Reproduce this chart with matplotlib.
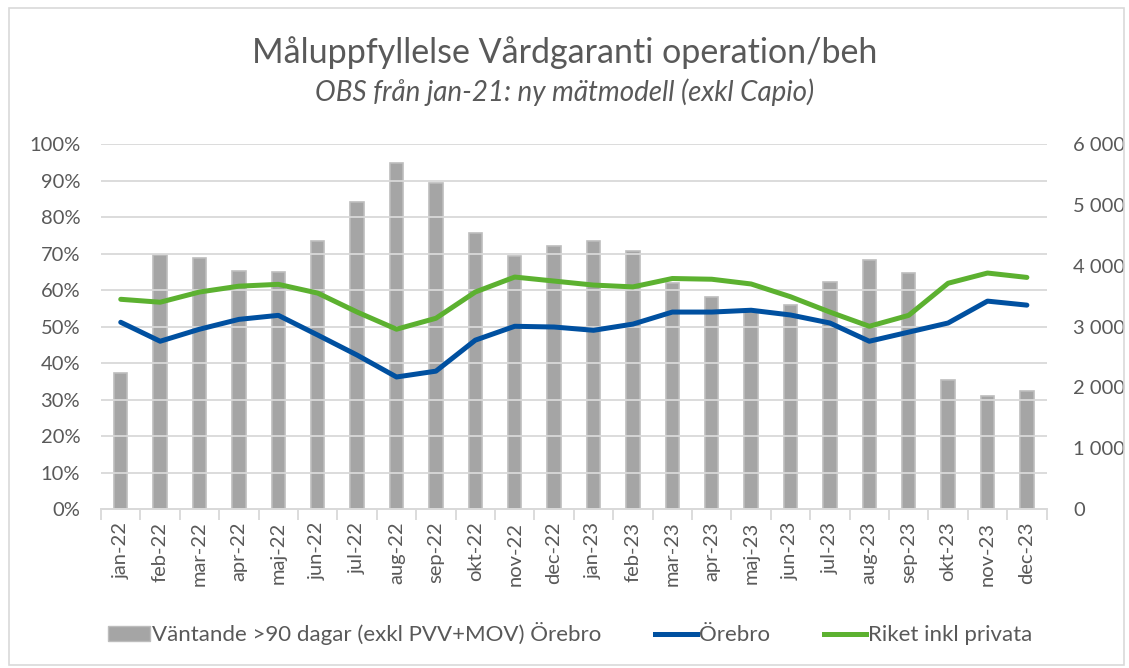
import numpy as np
from matplotlib import pyplot as plt
from matplotlib.patches import Patch, Rectangle
from matplotlib.lines import Line2D
from matplotlib.ticker import FuncFormatter, MultipleLocator, FixedLocator

months = ["jan-22", "feb-22", "mar-22", "apr-22", "maj-22", "jun-22", "jul-22", "aug-22",
          "sep-22", "okt-22", "nov-22", "dec-22", "jan-23", "feb-23", "mar-23", "apr-23",
          "maj-23", "jun-23", "jul-23", "aug-23", "sep-23", "okt-23", "nov-23", "dec-23"]

# väntande >90 dagar (höger axel)
waiting = [2230, 4175, 4125, 3910, 3895, 4405, 5045, 5690, 5360, 4535, 4160, 4320,
           4405, 4240, 3715, 3485, 3260, 3355, 3730, 4090, 3880, 2120, 1860, 1940]

# måluppfyllelse i procent (vänster axel)
orebro = [51.2, 46.0, 49.3, 52.0, 53.1, 47.7, 42.2, 36.2, 37.8, 46.3, 50.1, 49.9,
          49.0, 50.7, 54.0, 54.0, 54.5, 53.2, 51.0, 46.0, 48.5, 51.0, 57.0, 55.9]
riket = [57.5, 56.7, 59.5, 61.1, 61.6, 59.2, 54.0, 49.3, 52.3, 59.5, 63.6, 62.5,
         61.4, 60.9, 63.2, 63.0, 61.7, 58.2, 54.0, 50.1, 53.1, 61.9, 64.7, 63.5]

plt.rcParams['font.family'] = ['Lato', 'DejaVu Sans']
text_col = '#595959'
grid_col = '#d9d9d9'

fig = plt.figure(figsize=(11.29, 6.68), dpi=100)
fig.patches.append(Rectangle((0.008, 0.004), 0.988, 0.984, transform=fig.transFigure,
                             fill=False, edgecolor='#d9d9d9', linewidth=1.2))

ax = fig.add_axes([0.0895, 0.238, 0.8375, 0.546])
ax2 = ax.twinx()

x = np.arange(len(months))

# bars on the secondary axis, lines on top
ax.set_zorder(ax2.get_zorder() + 1)
ax.patch.set_visible(False)

ax2.bar(x, waiting, width=0.34, color='#a5a5a5', edgecolor='#bdbdbd', linewidth=1.2, zorder=2)
ax.plot(x, orebro, color='#0050a0', linewidth=3.6, solid_capstyle='round', zorder=3)
ax.plot(x, riket, color='#5cb130', linewidth=3.6, solid_capstyle='round', zorder=3)

ax.set_xlim(-0.5, len(months) - 0.5)
ax.set_ylim(0, 100)
ax2.set_ylim(0, 6000)

ax.yaxis.set_major_locator(MultipleLocator(10))
ax.yaxis.set_major_formatter(FuncFormatter(lambda v, p: f"{int(v)}%"))
ax2.yaxis.set_major_locator(MultipleLocator(1000))
ax2.yaxis.set_major_formatter(FuncFormatter(lambda v, p: f"{int(v):,}".replace(",", " ")))

ax.grid(axis='y', color=grid_col, linewidth=1.3)
ax.set_axisbelow(True)

ax.xaxis.set_major_locator(FixedLocator(x))
ax.set_xticklabels(months, rotation=90, fontsize=14.5, color=text_col)
ax.xaxis.set_minor_locator(FixedLocator(np.arange(-0.5, len(months), 1)))
ax.tick_params(axis='x', which='major', length=0, pad=9)
ax.tick_params(axis='x', which='minor', length=8, color=grid_col, width=1.3)
ax.tick_params(axis='y', length=0, labelsize=14.5, labelcolor=text_col, pad=15)
ax2.tick_params(axis='y', length=0, labelsize=14.5, labelcolor=text_col, pad=19)

for a in (ax, ax2):
    for s in ('top', 'left', 'right'):
        a.spines[s].set_visible(False)
    a.spines['bottom'].set_color(grid_col)
    a.spines['bottom'].set_linewidth(1.3)

fig.text(0.5, 0.922, "Måluppfyllelse Vårdgaranti operation/beh", ha='center', va='center',
         fontsize=24.5, color=text_col)
fig.text(0.5, 0.862, "OBS från jan-21: ny mätmodell (exkl Capio)", ha='center', va='center',
         fontsize=20, style='italic', color=text_col)

handles = [Patch(facecolor='#a5a5a5', edgecolor='#bdbdbd'),
           Line2D([], [], color='#0050a0', linewidth=3.6),
           Line2D([], [], color='#5cb130', linewidth=3.6)]
labels = ["Väntande >90 dagar (exkl PVV+MOV) Örebro", "Örebro", "Riket inkl privata"]
leg = fig.legend(handles, labels, loc='center', bbox_to_anchor=(0.505, 0.051), ncol=3,
                 frameon=False, fontsize=16, handlelength=1.9, handletextpad=0.1,
                 columnspacing=2.4)
for t in leg.get_texts():
    t.set_color(text_col)

fig.savefig("out.png", dpi=100)
